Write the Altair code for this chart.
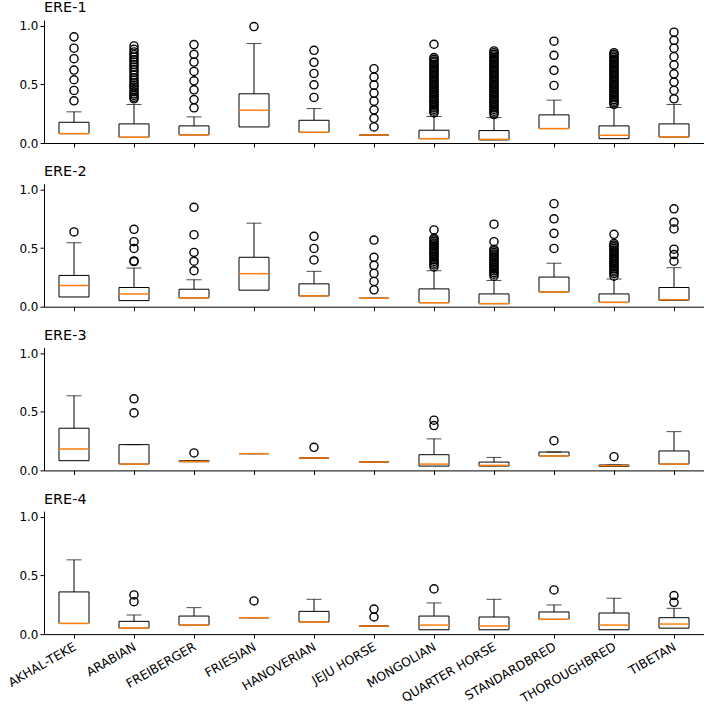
import altair as alt
import pandas as pd

BREEDS = ["AKHAL-TEKE", "ARABIAN", "FREIBERGER", "FRIESIAN", "HANOVERIAN", "JEJU HORSE",
          "MONGOLIAN", "QUARTER HORSE", "STANDARDBRED", "THOROUGHBRED", "TIBETAN"]
PANELS = ["ERE-1", "ERE-2", "ERE-3", "ERE-4"]

Q1 = {
    "ERE-1": [0.080, 0.049, 0.069, 0.137, 0.091, 0.069, 0.037, 0.026, 0.123, 0.037, 0.051],
    "ERE-2": [0.083, 0.052, 0.075, 0.141, 0.092, 0.072, 0.034, 0.026, 0.126, 0.037, 0.055],
    "ERE-3": [0.083, 0.054, 0.074, 0.143, 0.106, 0.071, 0.037, 0.037, 0.123, 0.034, 0.054],
    "ERE-4": [0.091, 0.051, 0.077, 0.140, 0.103, 0.069, 0.037, 0.037, 0.126, 0.037, 0.051],
}
MED = {
    "ERE-1": [0.080, 0.049, 0.069, 0.280, 0.091, 0.069, 0.037, 0.031, 0.123, 0.066, 0.051],
    "ERE-2": [0.181, 0.109, 0.075, 0.282, 0.092, 0.072, 0.034, 0.026, 0.126, 0.037, 0.060],
    "ERE-3": [0.183, 0.054, 0.077, 0.143, 0.106, 0.071, 0.054, 0.043, 0.123, 0.040, 0.054],
    "ERE-4": [0.091, 0.051, 0.077, 0.140, 0.103, 0.069, 0.077, 0.069, 0.126, 0.077, 0.086],
}
Q3 = {
    "ERE-1": [0.177, 0.163, 0.146, 0.420, 0.194, 0.069, 0.109, 0.106, 0.240, 0.146, 0.163],
    "ERE-2": [0.267, 0.164, 0.149, 0.422, 0.195, 0.072, 0.152, 0.109, 0.253, 0.109, 0.164],
    "ERE-3": [0.360, 0.220, 0.083, 0.143, 0.106, 0.071, 0.134, 0.071, 0.157, 0.046, 0.166],
    "ERE-4": [0.360, 0.109, 0.154, 0.140, 0.194, 0.069, 0.154, 0.146, 0.189, 0.180, 0.140],
}
HI = {
    "ERE-1": [0.266, 0.329, 0.223, 0.849, 0.294, 0.069, 0.226, 0.217, 0.366, 0.303, 0.329],
    "ERE-2": [0.546, 0.330, 0.230, 0.713, 0.302, 0.072, 0.307, 0.224, 0.371, 0.236, 0.333],
    "ERE-3": [0.637, 0.220, 0.083, 0.143, 0.106, 0.071, 0.269, 0.111, 0.157, 0.046, 0.331],
    "ERE-4": [0.634, 0.163, 0.226, 0.140, 0.297, 0.069, 0.266, 0.297, 0.249, 0.306, 0.220],
}

OUT_ERE1 = {
    "AKHAL-TEKE": [0.906, 0.809, 0.720, 0.623, 0.540, 0.449, 0.360],
    "ARABIAN": [0.829, 0.800, 0.777, 0.755, 0.734, 0.710, 0.691, 0.670, 0.649, 0.626, 0.603,
                0.580, 0.557, 0.535, 0.514, 0.495, 0.477, 0.457, 0.437, 0.420, 0.406, 0.390, 0.377],
    "FREIBERGER": [0.840, 0.757, 0.691, 0.611, 0.531, 0.454, 0.371, 0.300],
    "FRIESIAN": [0.994],
    "HANOVERIAN": [0.791, 0.689, 0.594, 0.497, 0.389],
    "JEJU HORSE": [0.634, 0.563, 0.494, 0.426, 0.357, 0.283, 0.211, 0.137],
    "MONGOLIAN": [0.843, 0.729, 0.714, 0.700, 0.686, 0.671, 0.657, 0.643, 0.629, 0.614, 0.600,
                  0.586, 0.571, 0.557, 0.543, 0.529, 0.514, 0.500, 0.486, 0.471, 0.457, 0.443,
                  0.429, 0.414, 0.400, 0.386, 0.371, 0.357, 0.343, 0.329, 0.314, 0.300, 0.286,
                  0.271, 0.257],
    "QUARTER HORSE": [0.786, 0.771, 0.757, 0.743, 0.729, 0.714, 0.700, 0.686, 0.671, 0.657,
                      0.643, 0.629, 0.614, 0.600, 0.586, 0.571, 0.557, 0.543, 0.529, 0.514,
                      0.500, 0.486, 0.471, 0.457, 0.443, 0.429, 0.414, 0.400, 0.386, 0.371,
                      0.357, 0.343, 0.329, 0.314, 0.300, 0.286, 0.271, 0.257, 0.243],
    "STANDARDBRED": [0.869, 0.749, 0.620, 0.491],
    "THOROUGHBRED": [0.771, 0.757, 0.743, 0.729, 0.714, 0.700, 0.686, 0.671, 0.657, 0.643,
                     0.629, 0.614, 0.600, 0.586, 0.571, 0.557, 0.543, 0.529, 0.514, 0.500,
                     0.486, 0.471, 0.457, 0.443, 0.429, 0.414, 0.400, 0.386, 0.371, 0.357,
                     0.343, 0.329],
    "TIBETAN": [0.946, 0.877, 0.809, 0.737, 0.666, 0.591, 0.520, 0.449, 0.377],
}
OUT_ERE2 = {
    "AKHAL-TEKE": [0.638],
    "ARABIAN": [0.661, 0.555, 0.497, 0.391, 0.385],
    "FREIBERGER": [0.848, 0.615, 0.463, 0.388, 0.307],
    "HANOVERIAN": [0.601, 0.497, 0.399],
    "JEJU HORSE": [0.569, 0.422, 0.353, 0.284, 0.216, 0.144],
    "MONGOLIAN": [0.655, 0.586, 0.571, 0.557, 0.543, 0.529, 0.514, 0.500, 0.486, 0.471, 0.457,
                  0.443, 0.429, 0.414, 0.400, 0.386, 0.371, 0.357, 0.339],
    "QUARTER HORSE": [0.704, 0.555, 0.491, 0.477, 0.463, 0.449, 0.434, 0.420, 0.406, 0.391,
                      0.377, 0.363, 0.349, 0.334, 0.320, 0.306, 0.291, 0.277, 0.261],
    "STANDARDBRED": [0.879, 0.750, 0.626, 0.497],
    "THOROUGHBRED": [0.618, 0.540, 0.526, 0.511, 0.497, 0.483, 0.469, 0.454, 0.440, 0.426,
                     0.411, 0.397, 0.383, 0.369, 0.354, 0.340, 0.326, 0.311, 0.297, 0.283,
                     0.261],
    "TIBETAN": [0.836, 0.721, 0.664, 0.491, 0.445, 0.388],
}
OUT_ERE3 = {
    "ARABIAN": [0.611, 0.491],
    "FREIBERGER": [0.149],
    "HANOVERIAN": [0.197],
    "MONGOLIAN": [0.429, 0.383],
    "STANDARDBRED": [0.254],
    "THOROUGHBRED": [0.117],
}
OUT_ERE4 = {
    "ARABIAN": [0.334, 0.277],
    "FRIESIAN": [0.283],
    "JEJU HORSE": [0.214, 0.146],
    "MONGOLIAN": [0.386],
    "STANDARDBRED": [0.377],
    "TIBETAN": [0.329, 0.271],
}
OUTLIERS = {"ERE-1": OUT_ERE1, "ERE-2": OUT_ERE2, "ERE-3": OUT_ERE3, "ERE-4": OUT_ERE4}

FONT = "DejaVu Sans"
BOX_W = 30
CAP_W = 15


def panel(name, last):
    box = pd.DataFrame({"breed": BREEDS, "q1": Q1[name], "med": MED[name],
                        "q3": Q3[name], "hi": HI[name]})
    rows = [(b, v) for b, vals in OUTLIERS[name].items() for v in vals]
    outs = pd.DataFrame(rows, columns=["breed", "value"])

    x = alt.X("breed:N", sort=BREEDS,
              scale=alt.Scale(type="band", domain=BREEDS, paddingInner=0, paddingOuter=0),
              axis=alt.Axis(title=None, labels=last, labelAngle=-30, labelAlign="right",
                            labelBaseline="top", labelPadding=2, labelOffset=-2,
                            labelFontSize=12.4))
    yscale = alt.Scale(domain=[0, 1.05], nice=False, zero=False)
    yaxis = alt.Axis(title=None, values=[0, 0.5, 1.0], format=".1f", grid=False)

    base = alt.Chart(box)
    whisk = base.mark_rule(color="black", strokeWidth=1).encode(
        x=x, y=alt.Y("q3:Q", scale=yscale, axis=yaxis), y2="hi:Q")
    rect = base.mark_bar(size=BOX_W, fill="white", stroke="black", strokeWidth=1).encode(
        x=x, y=alt.Y("q1:Q", scale=yscale, axis=yaxis), y2="q3:Q")
    cap = base.mark_tick(size=CAP_W, thickness=1, color="black").encode(
        x=x, y=alt.Y("hi:Q", scale=yscale, axis=yaxis))
    med = base.mark_tick(size=BOX_W, thickness=1.5, color="#ff7f0e", opacity=1).encode(
        x=x, y=alt.Y("med:Q", scale=yscale, axis=yaxis))
    pts = alt.Chart(outs).mark_point(shape="circle", filled=False, color="black",
                                     size=66, strokeWidth=1.4, opacity=1).encode(
        x=x, y=alt.Y("value:Q", scale=yscale, axis=yaxis))

    return alt.layer(whisk, rect, cap, med, pts).properties(
        width=660, height=123,
        title=alt.TitleParams(text=name, anchor="start", frame="group", fontSize=14.4,
                              font=FONT, fontWeight="normal", color="black", offset=4))


chart = alt.vconcat(*[panel(p, i == len(PANELS) - 1) for i, p in enumerate(PANELS)],
                    spacing=14.7).properties(
    padding={"left": 5, "top": 0, "right": 0, "bottom": 0}
).configure_view(stroke=None).configure_axis(
    domainColor="black", tickColor="black", labelColor="black", labelFont=FONT,
    labelFontSize=12, tickSize=4, domainWidth=1, tickWidth=1
).configure_title(font=FONT)

chart.save("out.html", embed_options={"renderer": "svg", "actions": False})
